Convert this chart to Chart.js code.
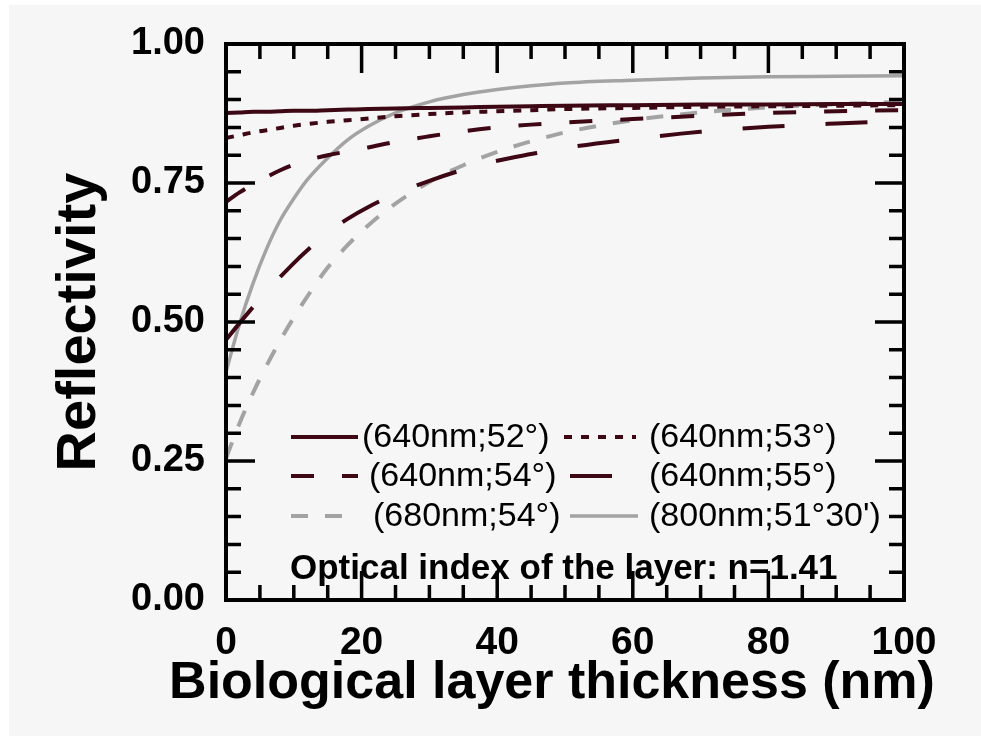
<!DOCTYPE html>
<html>
<head>
<meta charset="utf-8">
<script src="https://cdn.jsdelivr.net/npm/chart.js@4"></script>
<style>
  body { margin: 0; background: #fff; }
  #wrap { width: 981px; height: 736px; }
</style>
</head>
<body>
<div id="wrap"><canvas id="myChart" width="981" height="736"></canvas></div>
<script>
// thickness (nm)
const thickness = [0, 2, 4, 6, 8, 10, 12, 15, 18, 21, 25, 30, 35, 40, 45, 50, 60, 70, 80, 90, 100];

// reflectivity for each (wavelength; angle)
const r640_52 = [0.876, 0.877, 0.878, 0.878, 0.879, 0.880, 0.880, 0.881, 0.882, 0.883, 0.884, 0.885, 0.886, 0.887, 0.888, 0.889, 0.890, 0.891, 0.891, 0.892, 0.892];
const r640_53 = [0.831, 0.836, 0.841, 0.845, 0.849, 0.853, 0.856, 0.860, 0.863, 0.866, 0.870, 0.874, 0.877, 0.879, 0.881, 0.883, 0.885, 0.887, 0.888, 0.889, 0.890];
const r640_54 = [0.716, 0.733, 0.748, 0.761, 0.773, 0.783, 0.791, 0.800, 0.807, 0.814, 0.824, 0.834, 0.843, 0.850, 0.855, 0.859, 0.865, 0.871, 0.876, 0.879, 0.881];
const r640_55 = [0.468, 0.498, 0.527, 0.555, 0.581, 0.606, 0.629, 0.660, 0.686, 0.707, 0.730, 0.754, 0.774, 0.790, 0.802, 0.813, 0.829, 0.842, 0.851, 0.857, 0.862];
const r680_54 = [0.255, 0.318, 0.373, 0.422, 0.467, 0.508, 0.546, 0.598, 0.639, 0.674, 0.713, 0.752, 0.782, 0.806, 0.825, 0.841, 0.863, 0.877, 0.886, 0.892, 0.896];
const r800_5130 = [0.410, 0.497, 0.570, 0.632, 0.683, 0.722, 0.756, 0.795, 0.828, 0.852, 0.876, 0.896, 0.909, 0.918, 0.925, 0.930, 0.935, 0.939, 0.941, 0.942, 0.943];

const seriesLabels = ['(640nm;52°)', '(640nm;53°)', '(640nm;54°)', '(640nm;55°)', '(680nm;54°)', "(800nm;51°30')"];
const yTicks = [0, 0.25, 0.5, 0.75, 1];
const xTicks = [0, 20, 40, 60, 80, 100];
const xTitle = 'Biological layer thickness (nm)';
const yTitle = 'Reflectivity';
const note = 'Optical index of the layer: n=1.41';

const maroon = '#3d0714';
const grey = '#a3a3a3';
const FONT = "'Liberation Sans', Arial, sans-serif";

function pts(values) {
  return thickness.map((t, i) => ({ x: t, y: values[i] }));
}

function line(label, values, color, dash, width) {
  return {
    label: label,
    data: pts(values),
    borderColor: color,
    backgroundColor: color,
    borderWidth: width,
    borderDash: dash,
    pointRadius: 0,
    cubicInterpolationMode: 'monotone',
    fill: false
  };
}

// page background (grey panel, white strip top/left)
const panel = {
  id: 'panel',
  beforeDraw(chart) {
    const c = chart.ctx;
    c.save();
    c.fillStyle = '#ffffff';
    c.fillRect(0, 0, chart.width, chart.height);
    c.fillStyle = '#f6f6f6';
    c.fillRect(9, 5, chart.width - 9, chart.height - 5);
    c.restore();
  }
};

// closed frame with inward ticks on all four sides
const frame = {
  id: 'frame',
  afterDatasetsDraw(chart) {
    const c = chart.ctx, a = chart.chartArea;
    const xs = chart.scales.x, ys = chart.scales.y;
    c.save();
    c.strokeStyle = '#000';
    c.lineWidth = 3.5;
    c.beginPath();
    for (let v = 0; v <= 100; v += 5) {
      const px = xs.getPixelForValue(v);
      const len = v % 20 === 0 ? 29 : 15;
      c.moveTo(px, a.bottom); c.lineTo(px, a.bottom - len);
      c.moveTo(px, a.top); c.lineTo(px, a.top + len);
    }
    for (let k = 0; k <= 20; k++) {
      const py = ys.getPixelForValue(k * 0.05);
      const len = k % 5 === 0 ? 29 : 15;
      c.moveTo(a.left, py); c.lineTo(a.left + len, py);
      c.moveTo(a.right, py); c.lineTo(a.right - len, py);
    }
    c.stroke();
    c.lineWidth = 4;
    c.strokeRect(a.left, a.top, a.right - a.left, a.bottom - a.top);
    c.restore();
  }
};

// legend inside the plot, two columns, plus the note and x title
const legendPos = [
  { sx: 291, ex: 358, tx: 362, y: 437 },
  { sx: 564, ex: 636, tx: 649, y: 437 },
  { sx: 291, ex: 358, tx: 369, y: 476 },
  { sx: 570, ex: 614, tx: 649, y: 476 },
  { sx: 291, ex: 353, tx: 373, y: 516 },
  { sx: 570, ex: 638, tx: 649, y: 516 }
];
const inLegend = {
  id: 'inLegend',
  afterDraw(chart) {
    const c = chart.ctx;
    c.save();
    chart.data.datasets.forEach((ds, i) => {
      const p = legendPos[i];
      c.strokeStyle = ds.borderColor;
      c.lineWidth = ds.borderWidth;
      c.setLineDash(ds.borderDash || []);
      c.beginPath();
      c.moveTo(p.sx, p.y); c.lineTo(p.ex, p.y);
      c.stroke();
      c.setLineDash([]);
      c.fillStyle = '#000';
      c.font = '34px ' + FONT;
      c.textBaseline = 'middle';
      c.textAlign = 'left';
      c.fillText(ds.label, p.tx, p.y + 1);
    });
    c.font = 'bold 35px ' + FONT;
    c.fillText(note, 290, 569);
    // x axis title, drawn here so it is not squeezed to the plot width
    c.font = 'bold 52px ' + FONT;
    c.textAlign = 'center';
    c.textBaseline = 'alphabetic';
    c.fillText(xTitle, 552, 698);
    c.restore();
  }
};

const ctx = document.getElementById('myChart');
new Chart(ctx, {
  type: 'line',
  data: {
    datasets: [
      line(seriesLabels[0], r640_52, maroon, [], 4),
      line(seriesLabels[1], r640_53, maroon, [8, 9], 4),
      line(seriesLabels[2], r640_54, maroon, [23, 28], 4),
      line(seriesLabels[3], r640_55, maroon, [42, 41], 4),
      line(seriesLabels[4], r680_54, grey, [17, 17], 4),
      line(seriesLabels[5], r800_5130, grey, [], 3.5)
    ]
  },
  options: {
    responsive: false,
    animation: false,
    layout: { padding: { top: 44, right: 77, bottom: 0, left: 0 } },
    plugins: { legend: { display: false }, tooltip: { enabled: false } },
    scales: {
      x: {
        type: 'linear',
        min: 0, max: 100,
        afterFit(s) { s.height = 136; },
        afterBuildTicks(s) { s.ticks = xTicks.map(v => ({ value: v })); },
        grid: { display: false, drawTicks: false },
        border: { display: false },
        ticks: { color: '#000', padding: 20, font: { family: FONT, size: 39, weight: 'bold' } },
        title: { display: false }
      },
      y: {
        type: 'linear',
        min: 0, max: 1,
        afterFit(s) { s.width = 226; },
        afterBuildTicks(s) { s.ticks = yTicks.map(v => ({ value: v })); },
        grid: { display: false, drawTicks: false },
        border: { display: false },
        ticks: {
          color: '#000', padding: 21,
          font: { family: FONT, size: 38, weight: 'bold' },
          callback: v => v.toFixed(2)
        },
        title: {
          display: true,
          text: yTitle,
          color: '#000',
          padding: { top: 46, bottom: 0 },
          font: { family: FONT, size: 56, weight: 'bold' }
        }
      }
    }
  },
  plugins: [panel, frame, inLegend]
});
</script>
</body>
</html>
